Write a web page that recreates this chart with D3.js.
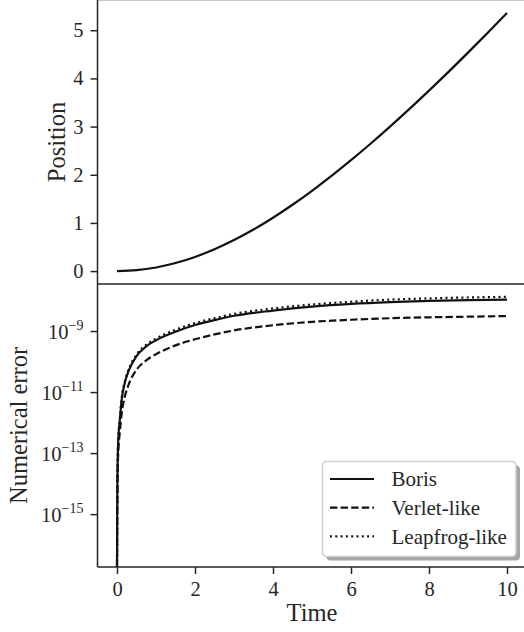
<!DOCTYPE html>
<html>
<head>
<meta charset="utf-8">
<script src="https://cdn.jsdelivr.net/npm/d3@7"></script>
<style>
  body { margin: 0; background: #fff; }
  svg { display: block; font-family: 'Liberation Serif', 'Times New Roman', serif; }
</style>
</head>
<body>
<div id="chart"></div>
<script>
// particle trajectory
const posTime = [0, 0.5, 1, 1.5, 2, 2.5, 3, 3.5, 4, 4.5, 5, 5.5, 6, 6.5, 7, 7.5, 8, 8.5, 9, 9.5, 10];
const position = [0, 0.019, 0.075, 0.167, 0.294, 0.453, 0.644, 0.863, 1.108, 1.377, 1.667, 1.976, 2.302, 2.644, 3.0, 3.368, 3.747, 4.136, 4.536, 4.945, 5.36];

// numerical error of each pusher, stored as log10 of the error
// (the error is exactly zero at t = 0, hence -Infinity)
const errTime = [0, 0.002, 0.005, 0.01, 0.02, 0.04, 0.07, 0.12, 0.2, 0.3, 0.5, 0.75, 1, 1.5, 2, 2.5, 3, 4, 5, 6, 7, 8, 9, 10];
const borisLogErr = [-Infinity, -16.3, -15.0, -14.0, -13.1, -12.4, -11.95, -11.25, -10.7, -10.3, -9.82, -9.5, -9.3, -9.02, -8.8, -8.64, -8.5, -8.33, -8.2, -8.11, -8.05, -8.01, -7.99, -7.97];
const verletLogErr = [-Infinity, -16.31, -15.4, -14.4, -13.5, -12.8, -12.35, -11.7, -11.15, -10.75, -10.27, -9.96, -9.76, -9.47, -9.27, -9.11, -8.98, -8.81, -8.7, -8.63, -8.58, -8.55, -8.53, -8.51];
const leapfrogLogErr = [-Infinity, -16.3, -14.97, -13.97, -13.07, -12.37, -11.91, -11.2, -10.65, -10.25, -9.77, -9.45, -9.25, -8.96, -8.74, -8.58, -8.44, -8.26, -8.13, -8.04, -7.97, -7.93, -7.9, -7.88];

const schemeNames = ['Boris', 'Verlet-like', 'Leapfrog-like'];
const schemeErrors = [borisLogErr, verletLogErr, leapfrogLogErr];

const timeTicks = [0, 2, 4, 6, 8, 10];
const positionTicks = [0, 1, 2, 3, 4, 5];
const errorTickExponents = [-9, -11, -13, -15];

class PusherComparison {

  constructor(_config) {
    this.config = {
      parentElement: _config.parentElement,
      containerWidth: 524,
      containerHeight: 632,
      axLeft: 97.5,
      axRight: 526.5,
      topPanel: {top: 0, bottom: 284},
      bottomPanel: {top: 284, bottom: 567},
      tickSize: 7,
      tickPadding: 7,
      tickFont: 20.5,
      legendFont: 21,
      labelFont: 24.5,
      ink: '#262626',
      lineWidth: 2.2,
      dashes: ['none', '7.4,3.2', '2,3.3'],
      legend: {x: 322.5, y: 461.5, width: 193.5, height: 95, firstRow: 479, rowStep: 28.7}
    };
    this.initVis();
  }

  initVis() {
    let vis = this;
    const c = vis.config;

    vis.svg = d3.select(c.parentElement).append('svg')
        .attr('width', c.containerWidth)
        .attr('height', c.containerHeight);

    // shared time axis, 5% margin on each side like matplotlib
    const tExt = d3.extent(posTime);
    const tPad = (tExt[1] - tExt[0]) * 0.05;
    vis.x = d3.scaleLinear()
        .domain([tExt[0] - tPad, tExt[1] + tPad])
        .range([c.axLeft, c.axRight]);

    const pExt = d3.extent(position);
    const pPad = (pExt[1] - pExt[0]) * 0.05;
    vis.yPos = d3.scaleLinear()
        .domain([pExt[0] - pPad, pExt[1] + pPad])
        .range([c.topPanel.bottom, c.topPanel.top]);

    // autoscale on the positive errors only
    const finiteLog = schemeErrors.flat().filter(Number.isFinite);
    const eExt = d3.extent(finiteLog);
    const ePad = (eExt[1] - eExt[0]) * 0.05;
    vis.yErr = d3.scaleLog()
        .domain([Math.pow(10, eExt[0] - ePad), Math.pow(10, eExt[1] + ePad)])
        .range([c.bottomPanel.bottom, c.bottomPanel.top])
        .clamp(true);

    vis.renderVis();
  }

  renderVis() {
    let vis = this;
    const c = vis.config;

    // top panel: position vs time
    const posLine = d3.line()
        .x((d, i) => vis.x(posTime[i]))
        .y(d => vis.yPos(d))
        .curve(d3.curveMonotoneX);

    vis.svg.append('path')
        .datum(position)
        .attr('fill', 'none')
        .attr('stroke', '#111')
        .attr('stroke-width', c.lineWidth)
        .attr('d', posLine);

    // bottom panel: error curves (zero error is clamped onto the bottom spine)
    schemeErrors.forEach((errs, k) => {
      const errLine = d3.line()
          .x((d, i) => vis.x(errTime[i]))
          .y(d => vis.yErr(Math.pow(10, d)))
          .curve(d3.curveMonotoneX);

      vis.svg.append('path')
          .datum(errs)
          .attr('fill', 'none')
          .attr('stroke', '#111')
          .attr('stroke-width', c.lineWidth)
          .attr('stroke-dasharray', c.dashes[k])
          .attr('d', errLine);
    });

    // spines
    const spines = vis.svg.append('g')
        .attr('stroke', c.ink)
        .attr('stroke-width', 1.5);
    spines.append('line')
        .attr('x1', c.axLeft).attr('x2', c.axLeft)
        .attr('y1', c.topPanel.top).attr('y2', c.bottomPanel.bottom);
    spines.append('line')
        .attr('x1', c.axLeft).attr('x2', c.axRight)
        .attr('y1', c.bottomPanel.top).attr('y2', c.bottomPanel.top);
    spines.append('line')
        .attr('x1', c.axLeft).attr('x2', c.axRight)
        .attr('y1', c.bottomPanel.bottom).attr('y2', c.bottomPanel.bottom);
    spines.append('line')
        .attr('x1', c.axLeft).attr('x2', c.axRight)
        .attr('y1', -0.6).attr('y2', -0.6);

    // axes
    const styleAxis = g => {
      g.select('.domain').remove();
      g.attr('font-family', null).attr('font-size', c.tickFont);
      g.selectAll('.tick line').attr('stroke', c.ink).attr('stroke-width', 1.5);
      g.selectAll('.tick text').attr('fill', c.ink);
    };

    vis.svg.append('g')
        .attr('transform', `translate(${c.axLeft},0)`)
        .call(d3.axisLeft(vis.yPos).tickValues(positionTicks).tickFormat(d3.format('d'))
            .tickSize(c.tickSize).tickPadding(c.tickPadding))
        .call(styleAxis);

    vis.svg.append('g')
        .attr('transform', `translate(0,${c.bottomPanel.bottom})`)
        .call(d3.axisBottom(vis.x).tickValues(timeTicks).tickFormat(d3.format('d'))
            .tickSize(c.tickSize).tickPadding(c.tickPadding))
        .call(styleAxis);

    const errAxis = vis.svg.append('g')
        .attr('transform', `translate(${c.axLeft},0)`)
        .call(d3.axisLeft(vis.yErr).tickValues(errorTickExponents.map(e => Math.pow(10, e)))
            .tickSize(c.tickSize).tickPadding(c.tickPadding).tickFormat(() => ''))
        .call(styleAxis);

    // 10^n labels with a superscript exponent
    errAxis.selectAll('.tick text').each(function(d) {
      const t = d3.select(this).attr('dy', '0.34em');
      const e = Math.round(Math.log10(d));
      t.append('tspan').text('10');
      t.append('tspan')
          .attr('font-size', 14)
          .attr('dy', '-0.62em')
          .text('\u2212' + Math.abs(e));
    });

    // axis titles
    vis.svg.append('text')
        .attr('transform', `translate(65,${(c.topPanel.top + c.topPanel.bottom) / 2}) rotate(-90)`)
        .attr('text-anchor', 'middle')
        .attr('font-size', c.labelFont)
        .attr('fill', c.ink)
        .text('Position');

    vis.svg.append('text')
        .attr('transform', `translate(27,${(c.bottomPanel.top + c.bottomPanel.bottom) / 2}) rotate(-90)`)
        .attr('text-anchor', 'middle')
        .attr('font-size', c.labelFont)
        .attr('fill', c.ink)
        .text('Numerical error');

    vis.svg.append('text')
        .attr('x', (c.axLeft + c.axRight) / 2)
        .attr('y', 621)
        .attr('text-anchor', 'middle')
        .attr('font-size', c.labelFont)
        .attr('fill', c.ink)
        .text('Time');

    // legend with drop shadow
    const L = c.legend;
    const legend = vis.svg.append('g').attr('class', 'legend');
    legend.append('rect')
        .attr('x', L.x + 4).attr('y', L.y + 4)
        .attr('width', L.width).attr('height', L.height)
        .attr('rx', 4)
        .attr('fill', '#a6a6a6');
    legend.append('rect')
        .attr('x', L.x).attr('y', L.y)
        .attr('width', L.width).attr('height', L.height)
        .attr('rx', 4)
        .attr('fill', '#fff')
        .attr('stroke', '#cccccc')
        .attr('stroke-width', 1.5);

    const rows = legend.selectAll('.legend-row')
        .data(schemeNames)
      .join('g')
        .attr('class', 'legend-row')
        .attr('transform', (d, i) => `translate(0,${L.firstRow + i * L.rowStep})`);

    rows.append('line')
        .attr('x1', 330).attr('x2', 374)
        .attr('stroke', '#111')
        .attr('stroke-width', c.lineWidth)
        .attr('stroke-dasharray', (d, i) => c.dashes[i]);

    rows.append('text')
        .attr('x', 391.5)
        .attr('dy', '0.34em')
        .attr('font-size', c.legendFont)
        .attr('fill', c.ink)
        .text(d => d);
  }
}

new PusherComparison({parentElement: '#chart'});
</script>
</body>
</html>
